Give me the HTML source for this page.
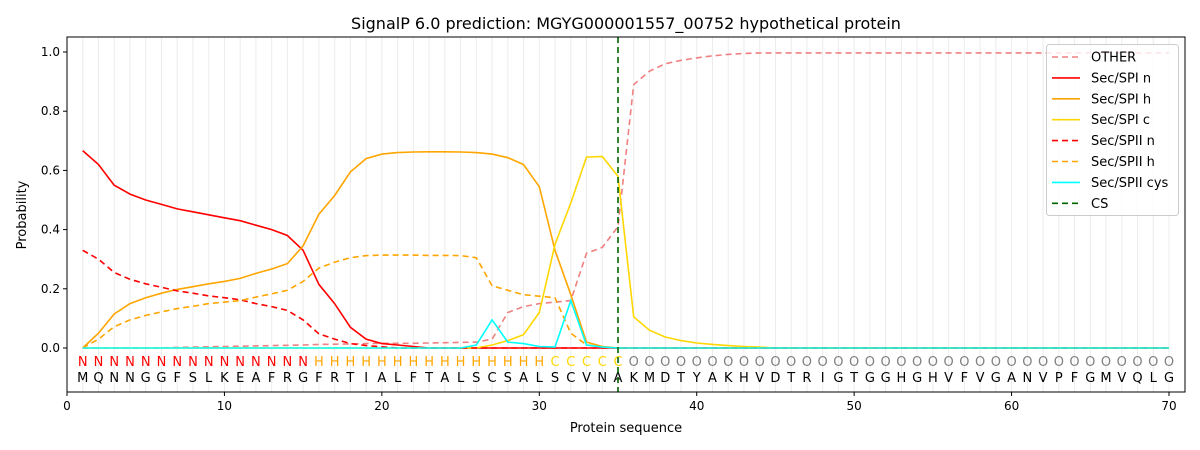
<!DOCTYPE html>
<html><head><meta charset="utf-8"><style>body{margin:0;background:#fff}svg{display:block;font-family:"DejaVu Sans","Liberation Sans",sans-serif}</style></head>
<body><svg id="s" width="1200" height="450" xmlns="http://www.w3.org/2000/svg"></svg>
<script>
const X=v=>67+v*15.743, Y=v=>348-v*296;
let h='<rect width="1200" height="450" fill="#fff"/>';
h+='<text x="626" y="29" font-size="16" text-anchor="middle">SignalP 6.0 prediction: MGYG000001557_00752 hypothetical protein</text>';
for(let i=1;i<=70;i++)h+=`<line x1="${X(i)}" y1="37" x2="${X(i)}" y2="392" stroke="#ececec" stroke-width="1"/>`;
const seq="MQNNGGFSLKEAFRGFRTIALFTALSCSALSCVNAKMDTYAKHVDTRIGTGGHGHVFVGANVPFGMVQLG";
for(let i=1;i<=70;i++){let l,c;if(i<=15){l='N';c='#ff0000'}else if(i<=30){l='H';c='#ffa500'}else if(i<=35){l='C';c='#ffd700'}else{l='O';c='#808080'}
h+=`<text x="${X(i)}" y="366" font-size="13" fill="${c}" text-anchor="middle">${l}</text><text x="${X(i)}" y="382" font-size="13" fill="#000" text-anchor="middle">${seq[i-1]}</text>`;}
function pad(a){while(a.length<70)a.push(0);return a}
const O=[0,0,0,0,0,0,0.002,0.003,0.004,0.005,0.006,0.007,0.008,0.009,0.01,0.012,0.013,0.014,0.015,0.016,0.016,0.016,0.017,0.018,0.019,0.02,0.03,0.12,0.14,0.15,0.155,0.16,0.32,0.34,0.41,0.89,0.935,0.96,0.972,0.98,0.987,0.992,0.995,0.997];
while(O.length<70)O.push(0.997);
const S=[
[O,'#f08080','6,4'],
[pad([0.667,0.62,0.55,0.52,0.5,0.485,0.47,0.46,0.45,0.44,0.43,0.415,0.4,0.38,0.33,0.215,0.15,0.07,0.03,0.015,0.01,0.005]),'#ff0000',''],
[pad([0,0.05,0.115,0.15,0.17,0.185,0.198,0.207,0.217,0.225,0.235,0.252,0.267,0.285,0.345,0.452,0.515,0.595,0.64,0.655,0.66,0.662,0.663,0.663,0.662,0.66,0.655,0.643,0.62,0.545,0.33,0.18,0.02,0.005,0]),'#ffa500',''],
[pad([0,0,0,0,0,0,0,0,0,0,0,0,0,0,0,0,0,0,0,0,0,0,0,0,0,0,0.01,0.025,0.045,0.12,0.35,0.49,0.645,0.647,0.58,0.105,0.06,0.037,0.025,0.017,0.012,0.008,0.005,0.003]),'#ffd700',''],
[pad([0.33,0.3,0.255,0.232,0.217,0.205,0.193,0.185,0.176,0.17,0.163,0.15,0.14,0.127,0.095,0.048,0.03,0.015,0.008,0.004]),'#ff0000','6,4'],
[pad([0,0.03,0.072,0.095,0.11,0.122,0.133,0.141,0.15,0.155,0.16,0.172,0.183,0.195,0.225,0.27,0.29,0.305,0.312,0.314,0.314,0.314,0.313,0.313,0.312,0.305,0.21,0.195,0.18,0.175,0.17,0.05,0.01,0.005]),'#ffa500','6,4'],
[pad([0,0,0,0,0,0,0,0,0,0,0,0,0,0,0,0,0,0,0,0,0,0,0,0,0,0.01,0.095,0.02,0.015,0.005,0.003,0.16,0.01,0.003]),'#00ffff','']];
for(const [d,c,da] of S){h+=`<polyline fill="none" stroke="${c}" stroke-width="1.6" ${da?`stroke-dasharray="${da}"`:''} points="${d.map((v,i)=>X(i+1).toFixed(1)+','+Y(v).toFixed(1)).join(' ')}"/>`;}
h+=`<line x1="${X(35)}" y1="37" x2="${X(35)}" y2="392" stroke="#006400" stroke-width="1.6" stroke-dasharray="6,4"/>`;
h+='<rect x="67" y="37" width="1118" height="355" fill="none" stroke="#000" stroke-width="1"/>';
for(let t=0;t<=70;t+=10)h+=`<line x1="${X(t)}" y1="392" x2="${X(t)}" y2="396" stroke="#000"/><text x="${X(t)}" y="410" font-size="12" text-anchor="middle">${t}</text>`;
for(let t=0;t<=5;t++){let v=t*0.2;h+=`<line x1="63" y1="${Y(v)}" x2="67" y2="${Y(v)}" stroke="#000"/><text x="60" y="${Y(v)+4}" font-size="12" text-anchor="end">${v.toFixed(1)}</text>`;}
h+='<text x="626" y="432" font-size="13" text-anchor="middle">Protein sequence</text>';
h+='<text transform="translate(26,215) rotate(-90)" font-size="13" text-anchor="middle">Probability</text>';
h+='<rect x="1046.5" y="44.5" width="132" height="171" rx="3" fill="#fff" fill-opacity="0.8" stroke="#ccc"/>';
const L=[['OTHER','#f08080','6,4'],['Sec/SPI n','#ff0000',''],['Sec/SPI h','#ffa500',''],['Sec/SPI c','#ffd700',''],['Sec/SPII n','#ff0000','6,4'],['Sec/SPII h','#ffa500','6,4'],['Sec/SPII cys','#00ffff',''],['CS','#006400','6,4']];
L.forEach((l,i)=>{let y=57+i*20.9;h+=`<line x1="1052" y1="${y}" x2="1080" y2="${y}" stroke="${l[1]}" stroke-width="1.6" ${l[2]?`stroke-dasharray="${l[2]}"`:''}/><text x="1091" y="${y+4.5}" font-size="13">${l[0]}</text>`;});
document.getElementById('s').innerHTML=h;
</script></body></html>
